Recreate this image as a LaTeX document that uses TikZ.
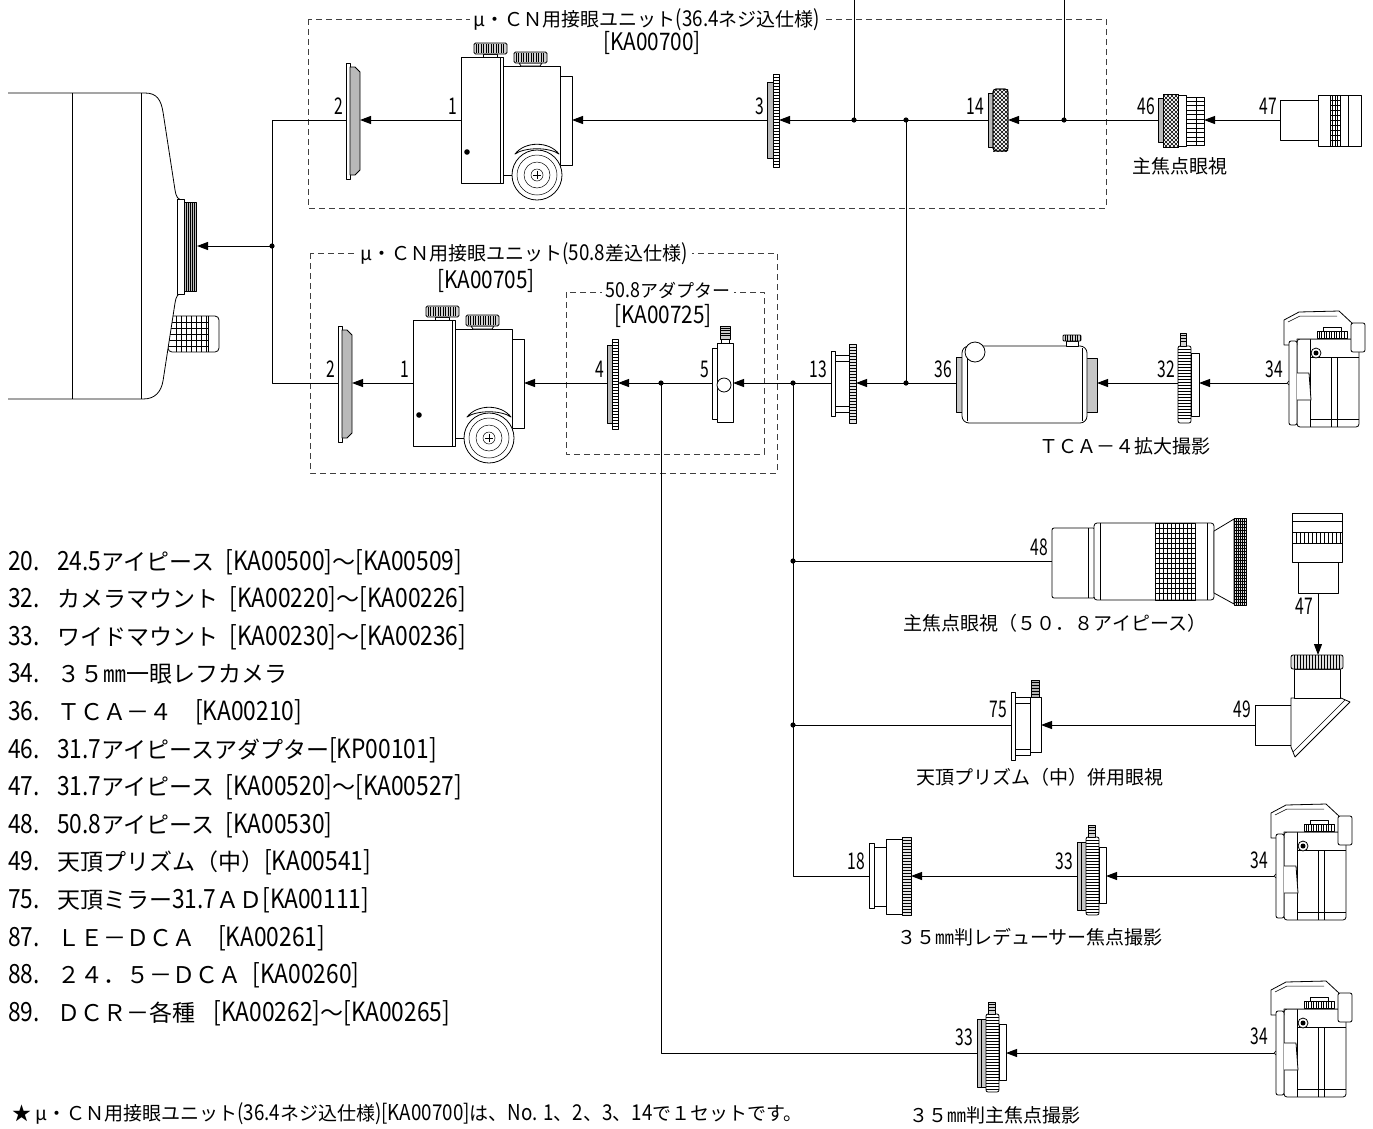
\documentclass[tikz,border=0pt]{standalone}
\usepackage{fontspec}
\setmainfont{Noto Sans CJK JP}
\newfontfamily\latn[Scale=1.15,FakeStretch=0.86]{Noto Sans CJK JP}
\newfontfamily\lblf[Scale=1.15,FakeStretch=0.68]{Noto Sans CJK JP}
\newcommand\LT[1]{{\latn #1}}
\newcommand\HSP{\hspace{0.5em}}
\usetikzlibrary{arrows.meta}
\newcommand\HS[5]{\foreach \k in {#3,#4,...,#5}{\draw[stripe] (#1,\k) -- (#2,\k);}}
\newcommand\VS[5]{\foreach \k in {#3,#4,...,#5}{\draw[stripe] (\k,#1) -- (\k,#2);}}
\newcommand\XH[4]{\begin{scope}\clip (#1,#2) rectangle (#3,#4);\foreach \k in {-100,-96,...,60}{\draw[stripe] (\k,-50) -- (\k+100,50) (\k,50) -- (\k+100,-50);}\end{scope}}
\tikzset{
 comp/.style={draw=black,line width=0.8pt,fill=white},
 thinl/.style={draw=black,line width=0.5pt},
 stripe/.style={draw=black,line width=0.4pt},
 conn/.style={draw=black,line width=1pt},
 arr/.style={conn,-{Triangle[length=11pt,width=8pt]}},
 dbox/.style={draw=black!75,line width=0.9pt,dash pattern=on 6pt off 4pt},
 lab/.style={font=\lblf\fontsize{20}{20}\selectfont,inner sep=0pt,anchor=base east},
 capn/.style={font=\fontsize{19}{19}\selectfont,inner sep=0pt,anchor=base},
 ttl/.style={font=\fontsize{19}{19}\selectfont,fill=white,inner xsep=4pt,inner ysep=0pt,anchor=base},
 kan/.style={font=\latn\fontsize{21}{21}\selectfont,inner sep=0pt,anchor=base},
 lstn/.style={font=\latn\fontsize{23}{27}\selectfont,inner sep=0pt,anchor=base west},
 lstt/.style={font=\fontsize{23}{27}\selectfont,inner sep=0pt,anchor=base west},
 foot/.style={font=\fontsize{19}{19}\selectfont,inner sep=0pt,anchor=base west},
 pics/unitone/.style={code={
  \draw[comp] (42,-54) rectangle (99,55);
  \draw[comp] (99,-44) rectangle (111,45);
  \draw[comp] (0,-63) rectangle (42,63);
  \draw[thinl] (39,-63) -- (39,63);
  \draw[comp] (22,-66) rectangle (36,-63);
  \draw[comp,fill=gray!35,rounded corners=1.5pt] (13,-77) rectangle (46,-66);
  \VS{-76}{-67}{15}{17.5}{44}
  \draw[comp] (58,-57) -- (60,-54) -- (79,-54) -- (81,-57) -- cycle;
  \draw[comp,fill=gray!35,rounded corners=1.5pt] (53,-68) rectangle (86,-57);
  \VS{-67}{-58}{55}{57.5}{84}
  \draw[comp] (54,34) .. controls (64,21) and (88,21) .. (98,34) .. controls (88,27) and (64,27) .. (54,34) -- cycle;
  \draw[comp] (76,55) circle[radius=25pt];
  \draw[thinl] (76,55) circle[radius=20pt] (76,55) circle[radius=13pt] (76,55) circle[radius=6pt];
  \draw[thinl] (72,55) -- (80,55) (76,51) -- (76,59);
  \fill (6,32) circle[radius=2.8pt];
 }},
 pics/platetwo/.style={code={
  \draw[comp] (0,-57) rectangle (4,59);
  \draw[comp,fill=gray!55] (4,-53) -- (9,-53) -- (14,-48) -- (14,50) -- (9,55) -- (4,55) -- cycle;
 }},
 pics/ringthree/.style={code={
  \draw[comp,fill=gray!55] (0,-38) rectangle (6,38);
  \draw[comp] (6,-46) rectangle (12,47);
  \HS{6}{12}{-43}{-40}{44}
 }},
 pics/ringfour/.style={code={
  \draw[comp,fill=gray!55] (0,-38) rectangle (5,40);
  \draw[comp] (5,-44) rectangle (11,46);
  \HS{5}{11}{-41}{-38}{43}
 }},
 pics/knurlft/.style={code={
  \draw[comp,fill=gray!55] (0,-27) rectangle (5,27);
  \draw[comp,rounded corners=3pt] (5,-31) rectangle (20,31);
  \XH{5}{-31}{20}{31}
  \draw[line width=0.8pt,rounded corners=3pt] (5,-31) rectangle (20,31);
 }},
 pics/adpfs/.style={code={
  \draw[comp,fill=gray!55] (0,-22) rectangle (5,22);
  \draw[comp] (5,-26) rectangle (20,27);
  \XH{5}{-26}{20}{27}
  \draw[line width=0.8pt] (5,-26) rectangle (20,27);
  \draw[comp] (20,-25) rectangle (28,26);
  \draw[comp] (28,-23) rectangle (46,25);
  \HS{28}{46}{-19}{-14.5}{22}
  \draw[thinl] (38,-23) -- (38,25);
 }},
 pics/epsh/.style={code={
  \draw[comp] (0,-20) rectangle (38,20);
  \draw[comp] (38,-25) rectangle (81,26);
  \VS{-25}{26}{50}{52.5}{60}
  \HS{50}{60}{-20}{-15}{21}
  \draw[thinl] (68,-25) -- (68,26);
 }},
 pics/epsv/.style={code={
  \draw[comp] (-20,-31) rectangle (20,0);
  \draw[comp] (-26,-80) rectangle (24,-31);
  \draw[thinl] (-26,-72) -- (24,-72) (-26,-61) -- (24,-61) (-26,-50) -- (24,-50);
  \VS{-61}{-50}{-22}{-18}{22}
 }},
 pics/clampfive/.style={code={
  \draw[comp] (0,-35) rectangle (5,36);
  \draw[comp] (5,-40) rectangle (21,39);
  \draw[comp] (9,-44) rectangle (17,-40);
  \draw[comp,fill=gray!40] (8,-57) rectangle (18,-44);
  \HS{8}{18}{-55}{-52.5}{-46}
  \draw[comp] (12,2) circle[radius=7pt];
 }},
 pics/adpthirteen/.style={code={
  \draw[comp] (0,-32) rectangle (4,33);
  \draw[comp] (4,-28) rectangle (18,29);
  \draw[thinl] (4,-22) -- (18,-22) (4,23) -- (18,23);
  \draw[comp,fill=gray!20] (18,-39) rectangle (25,40);
  \HS{18}{25}{-36}{-33}{37}
 }},
 pics/tcafour/.style={code={
  \draw[comp,fill=gray!45] (0,-26) rectangle (7,29);
  \draw[comp,fill=gray!45] (130,-25) rectangle (141,29);
  \draw[comp,rounded corners=7pt] (6,-37) rectangle (131,40);
  \draw[thinl] (11,-35) -- (11,38) (126,-35) -- (126,38);
  \draw[comp] (19,-31) circle[radius=10pt];
  \draw[comp] (110,-42) rectangle (122,-37);
  \draw[comp,fill=gray!35,rounded corners=1pt] (107,-48) rectangle (125,-42);
  \VS{-48}{-42}{109}{111.5}{124}
 }},
 pics/mountcam/.style={code={
  \draw[comp,rounded corners=2pt] (0,-37) rectangle (13,40);
  \HS{0}{13}{-34}{-31}{37}
  \draw[comp,fill=gray!35] (2,-50) rectangle (8,-37);
  \HS{2}{8}{-48}{-45}{-40}
  \draw[comp] (13,-30) rectangle (21,33);
 }},
 pics/widemount/.style={code={
  \draw[comp,fill=gray!45] (0,-34) rectangle (9,34);
  \draw[thinl] (4,-34) -- (4,34);
  \draw[comp,rounded corners=2pt] (9,-39) rectangle (22,39);
  \HS{9}{22}{-36}{-33}{36}
  \draw[comp,fill=gray!35] (11,-51) rectangle (18,-39);
  \HS{11}{18}{-49}{-46}{-41}
  \draw[comp] (22,-29) rectangle (29,27);
 }},
 pics/reducer/.style={code={
  \draw[comp] (0,-33) rectangle (5,32);
  \draw[comp] (5,-29) rectangle (17,30);
  \draw[comp] (17,-37) rectangle (33,38);
  \draw[comp,fill=gray!20] (33,-39) rectangle (42,39);
  \HS{33}{42}{-36}{-33}{36}
 }},
 pics/epfifty/.style={code={
  \draw[comp,rounded corners=2pt] (0,-33) rectangle (43,37);
  \draw[thinl] (36,-33) -- (36,37);
  \draw[comp,rounded corners=3pt] (42,-38) rectangle (162,39);
  \draw[thinl] (48,-38) -- (48,39) (155,-38) -- (155,39);
  \draw[thinl] (103,-38) rectangle (143,39);
  \VS{-38}{39}{107}{111}{139}
  \HS{103}{143}{-33}{-28}{35}
  \draw[comp] (162,-30) -- (182,-42) -- (182,43) -- (162,32) -- cycle;
  \draw[comp,fill=gray!25] (182,-43) rectangle (194,44);
  \VS{-43}{44}{184}{186}{192}
  \HS{182}{194}{-40}{-37}{41}
 }},
 pics/mirrorad/.style={code={
  \draw[comp] (0,-33) rectangle (4,35);
  \draw[comp] (4,-28) rectangle (19,30);
  \draw[thinl] (4,-22) -- (19,-22) (4,24) -- (19,24);
  \draw[comp] (19,-28) rectangle (30,27);
  \draw[comp,fill=gray!60] (20,-45) rectangle (28,-28);
  \HS{20}{28}{-43}{-40}{-31}
 }},
 pics/prismmid/.style={code={
  \draw[comp] (0,-20) rectangle (37,20);
  \draw[comp] (36,-27) -- (86,-27) -- (95,-23) -- (40,32) -- (36,22) -- cycle;
  \draw[thinl] (90,-25) -- (38,27);
  \draw[comp] (39,-56) rectangle (85,-27);
  \draw[comp,fill=gray!25,rounded corners=2pt] (36,-70) rectangle (88,-56);
  \VS{-70}{-56}{39}{42}{85}
 }},
 pics/camera/.style={code={
  \draw[comp,rounded corners=3pt] (10,-44) rectangle (72,44);
  \draw[thinl] (23,-44) -- (23,44) (23,-26) -- (72,-26) (44,-26) -- (44,44) (50,-26) -- (50,44) (23,36) -- (72,36);
  \draw[comp] (-3,-63) -- (12,-71) -- (52,-72) -- (66,-59) -- (66,-44) -- (10,-44) -- (10,-38) -- (-3,-38) -- cycle;
  \draw[thinl] (1,-61) -- (13,-67) -- (50,-67);
  \draw[comp] (36,-56) rectangle (54,-52);
  \draw[comp] (30,-52) rectangle (60,-45);
  \VS{-52}{-45}{32}{34.5}{58}
  \draw[comp,rounded corners=2pt] (64,-60) rectangle (78,-31);
  \draw[comp,rounded corners=2pt] (2,-42) rectangle (10,42);
  \draw[comp] (10,-10) -- (22,-10) -- (24,17) -- (10,17);
  \draw[comp] (29,-30) circle[radius=5pt];
  \fill (29,-30) circle[radius=2.5pt];
  \draw[thinl] (2,-2) -- (0,0) -- (2,2);
 }},
}
\begin{document}
\begin{tikzpicture}[x=1pt,y=-1pt,line join=round]
\useasboundingbox (0,0) rectangle (1373,1128);
\fill[white] (0,0) rectangle (1373,1128);
% telescope body
\draw[comp,rounded corners=4pt] (168,316) rectangle (219,352);
\VS{316}{352}{176}{181}{206}
\draw[stripe] (208,316) -- (208,352);
\HS{168}{208}{322}{328}{346}
\draw[comp] (8,93) -- (145,93) .. controls (157,93) and (161,100) .. (163,112) -- (175,190) .. controls (176,197) and (178,200) .. (183,200) -- (183,293) .. controls (178,293) and (176,296) .. (175,303) -- (163,381) .. controls (161,392) and (155,399) .. (143,399) -- (8,399);
\draw[comp] (72,93) -- (72,399) (141,93) -- (141,399);
\draw[comp] (177,199) rectangle (184,294);
\draw[comp,fill=gray!50] (184,202) rectangle (196,291);
\VS{202}{291}{186}{188}{194}
% dashed boxes
\draw[dbox] (308,19) rectangle (1106,208);
\draw[dbox] (310,253) rectangle (777,473);
\draw[dbox] (566,292) rectangle (764,454);
% coordinates
\coordinate (jt) at (272,120);
\coordinate (jm) at (272,246);
\coordinate (jb) at (272,383);
\coordinate (tel-r) at (197,246);
\coordinate (p2a-l) at (346,120); \coordinate (p2a-r) at (360,120);
\coordinate (p1a-l) at (461,120); \coordinate (p1a-r) at (572,120);
\coordinate (p3-l) at (767,120); \coordinate (p3-r) at (779,120);
\coordinate (p14-l) at (988,120); \coordinate (p14-r) at (1008,120);
\coordinate (p46-l) at (1158,120); \coordinate (p46-r) at (1204,120);
\coordinate (p47a-l) at (1280,120);
\coordinate (d1) at (854,120); \coordinate (d2) at (906,120); \coordinate (d3) at (1064,120);
\coordinate (t1) at (854,0); \coordinate (t3) at (1064,0);
\coordinate (p2b-l) at (338,383); \coordinate (p2b-r) at (352,383);
\coordinate (p1b-l) at (413,383); \coordinate (p1b-r) at (524,383);
\coordinate (p4-l) at (607,383); \coordinate (p4-r) at (618,383);
\coordinate (d5) at (661,383);
\coordinate (p5-l) at (712,383); \coordinate (p5-r) at (733,383);
\coordinate (d6) at (793,383);
\coordinate (p13-l) at (831,383); \coordinate (p13-r) at (856,383);
\coordinate (d7) at (906,383);
\coordinate (p36-l) at (956,383); \coordinate (p36-r) at (1097,383);
\coordinate (p32-l) at (1178,383); \coordinate (p32-r) at (1199,383);
\coordinate (p34a-l) at (1287,383);
\coordinate (d8) at (793,561); \coordinate (p48-l) at (1052,561);
\coordinate (p47b-b) at (1318,593); \coordinate (p49-t) at (1318,655);
\coordinate (d9) at (793,725); \coordinate (p75-l) at (1011,725); \coordinate (p75-r) at (1041,725);
\coordinate (p49-l) at (1255,725);
\coordinate (k1) at (793,876); \coordinate (p18-l) at (869,876); \coordinate (p18-r) at (911,876);
\coordinate (p33a-l) at (1077,876); \coordinate (p33a-r) at (1106,876); \coordinate (p34b-l) at (1274,876);
\coordinate (k2) at (661,1053); \coordinate (p33b-l) at (977,1053); \coordinate (p33b-r) at (1006,1053);
\coordinate (p34c-l) at (1274,1053);
% connectors
\draw[conn] (p2a-l) -- (jt) -- (jb) -- (p2b-l);
\draw[arr] (jm) -- (tel-r);
\draw[arr] (p1a-l) -- (p2a-r);
\draw[arr] (p3-l) -- (p1a-r);
\draw[arr] (p14-l) -- (p3-r);
\draw[arr] (p46-l) -- (p14-r);
\draw[arr] (p47a-l) -- (p46-r);
\draw[conn] (t1) -- (d1);
\draw[conn] (t3) -- (d3);
\draw[conn] (d2) -- (d7);
\draw[arr] (p1b-l) -- (p2b-r);
\draw[arr] (p4-l) -- (p1b-r);
\draw[arr] (p5-l) -- (p4-r);
\draw[arr] (p13-l) -- (p5-r);
\draw[arr] (p36-l) -- (p13-r);
\draw[arr] (p32-l) -- (p36-r);
\draw[arr] (p34a-l) -- (p32-r);
\draw[conn] (d5) -- (k2) -- (p33b-l);
\draw[conn] (d6) -- (k1) -- (p18-l);
\draw[conn] (d8) -- (p48-l);
\draw[conn] (d9) -- (p75-l);
\draw[arr] (p49-l) -- (p75-r);
\draw[arr] (p47b-b) -- (p49-t);
\draw[arr] (p33a-l) -- (p18-r);
\draw[arr] (p34b-l) -- (p33a-r);
\draw[arr] (p34c-l) -- (p33b-r);
% components
\pic (c2a) at (346,120) {platetwo};
\pic (c1a) at (461,120) {unitone};
\pic (c3) at (767,120) {ringthree};
\pic (c14) at (988,120) {knurlft};
\pic (c46) at (1158,120) {adpfs};
\pic (c47a) at (1280,120) {epsh};
\pic (c2b) at (338,383) {platetwo};
\pic (c1b) at (413,383) {unitone};
\pic (c4) at (607,383) {ringfour};
\pic (c5) at (712,383) {clampfive};
\pic (c13) at (831,383) {adpthirteen};
\pic (c36) at (956,383) {tcafour};
\pic (c32) at (1178,383) {mountcam};
\pic (c34a) at (1287,383) {camera};
\pic (c48) at (1052,561) {epfifty};
\pic (c47b) at (1318,593) {epsv};
\pic (c75) at (1011,725) {mirrorad};
\pic (c49) at (1255,725) {prismmid};
\pic (c18) at (869,876) {reducer};
\pic (c33a) at (1077,876) {widemount};
\pic (c34b) at (1274,876) {camera};
\pic (c33b) at (977,1053) {widemount};
\pic (c34c) at (1274,1053) {camera};
% dots
\foreach \p in {jm,d1,d2,d3,d5,d6,d7,d8,d9} \fill (\p) circle[radius=2.6pt];
% part labels
\node[lab] (l2a) at (343,114) {2};
\node[lab] (l1a) at (457,114) {1};
\node[lab] (l3) at (764,114) {3};
\node[lab] (l14) at (984,114) {14};
\node[lab] (l46) at (1155,114) {46};
\node[lab] (l47a) at (1277,114) {47};
\node[lab] (l2b) at (335,377) {2};
\node[lab] (l1b) at (409,377) {1};
\node[lab] (l4) at (604,377) {4};
\node[lab] (l5) at (709,377) {5};
\node[lab] (l13) at (827,377) {13};
\node[lab] (l36) at (952,377) {36};
\node[lab] (l32) at (1175,377) {32};
\node[lab] (l34a) at (1283,377) {34};
\node[lab] (l48) at (1048,555) {48};
\node[lab] (l47b) at (1313,614) {47};
\node[lab] (l75) at (1007,717) {75};
\node[lab] (l49) at (1251,717) {49};
\node[lab] (l18) at (865,869) {18};
\node[lab] (l33a) at (1073,869) {33};
\node[lab] (l34b) at (1268,868) {34};
\node[lab] (l33b) at (973,1045) {33};
\node[lab] (l34c) at (1268,1044) {34};
% box titles
\node[ttl] (tt1) at (647,26) {μ・ＣＮ用接眼ユニット\LT{(36.4}ネジ込仕様\LT{)}};
\node[kan] (tk1) at (652,50) {[KA00700]};
\node[ttl] (tt2) at (524,260) {μ・ＣＮ用接眼ユニット\LT{(50.8}差込仕様\LT{)}};
\node[kan] (tk2) at (486,288) {[KA00705]};
\node[ttl,font=\fontsize{18}{18}\selectfont] (tt3) at (668,297) {\LT{50.8}アダプター};
\node[kan] (tk3) at (663,323) {[KA00725]};
% captions
\node[capn] (cp1) at (1180,173) {主焦点眼視};
\node[capn] (cp2) at (1125,453) {ＴＣＡ－４拡大撮影};
\node[capn] (cp3) at (1055,630) {主焦点眼視（５０．８アイピース）};
\node[capn] (cp4) at (1040,784) {天頂プリズム（中）併用眼視};
\node[capn] (cp5) at (1030,944) {３５㎜判レデューサー焦点撮影};
\node[capn] (cp6) at (995,1122) {３５㎜判主焦点撮影};
% list
\node[lstn] (n20) at (8,570) {20.};
\node[lstt] (x20) at (57,570) {\LT{24.5}アイピース\HSP\LT{[KA00500]}～\LT{[KA00509]}};
\node[lstn] (n32) at (8,607.6) {32.};
\node[lstt] (x32) at (57,607.6) {カメラマウント\HSP\LT{[KA00220]}～\LT{[KA00226]}};
\node[lstn] (n33) at (8,645.2) {33.};
\node[lstt] (x33) at (57,645.2) {ワイドマウント\HSP\LT{[KA00230]}～\LT{[KA00236]}};
\node[lstn] (n34) at (8,682.8) {34.};
\node[lstt] (x34) at (57,682.8) {３５㎜一眼レフカメラ};
\node[lstn] (n36) at (8,720.4) {36.};
\node[lstt] (x36) at (57,720.4) {ＴＣＡ－４　\LT{[KA00210]}};
\node[lstn] (n46) at (8,758) {46.};
\node[lstt] (x46) at (57,758) {\LT{31.7}アイピースアダプター\LT{[KP00101]}};
\node[lstn] (n47) at (8,795.6) {47.};
\node[lstt] (x47) at (57,795.6) {\LT{31.7}アイピース\HSP\LT{[KA00520]}～\LT{[KA00527]}};
\node[lstn] (n48) at (8,833.2) {48.};
\node[lstt] (x48) at (57,833.2) {\LT{50.8}アイピース\HSP\LT{[KA00530]}};
\node[lstn] (n49) at (8,870.8) {49.};
\node[lstt] (x49) at (57,870.8) {天頂プリズム（中）\LT{[KA00541]}};
\node[lstn] (n75) at (8,908.4) {75.};
\node[lstt] (x75) at (57,908.4) {天頂ミラー\LT{31.7}ＡＤ\LT{[KA00111]}};
\node[lstn] (n87) at (8,946) {87.};
\node[lstt] (x87) at (57,946) {ＬＥ－ＤＣＡ　\LT{[KA00261]}};
\node[lstn] (n88) at (8,983.6) {88.};
\node[lstt] (x88) at (57,983.6) {２４．５－ＤＣＡ\HSP\LT{[KA00260]}};
\node[lstn] (n89) at (8,1021.2) {89.};
\node[lstt] (x89) at (57,1021.2) {ＤＣＲ－各種\hspace{0.8em}\LT{[KA00262]}～\LT{[KA00265]}};
% footnote
\node[foot] (fn) at (12,1120) {★ μ・ＣＮ用接眼ユニット\LT{(36.4}ネジ込仕様\LT{)[KA00700]}は、\LT{No. 1}、\LT{2}、\LT{3}、\LT{14}で１セットです。};
\end{tikzpicture}
\end{document}
